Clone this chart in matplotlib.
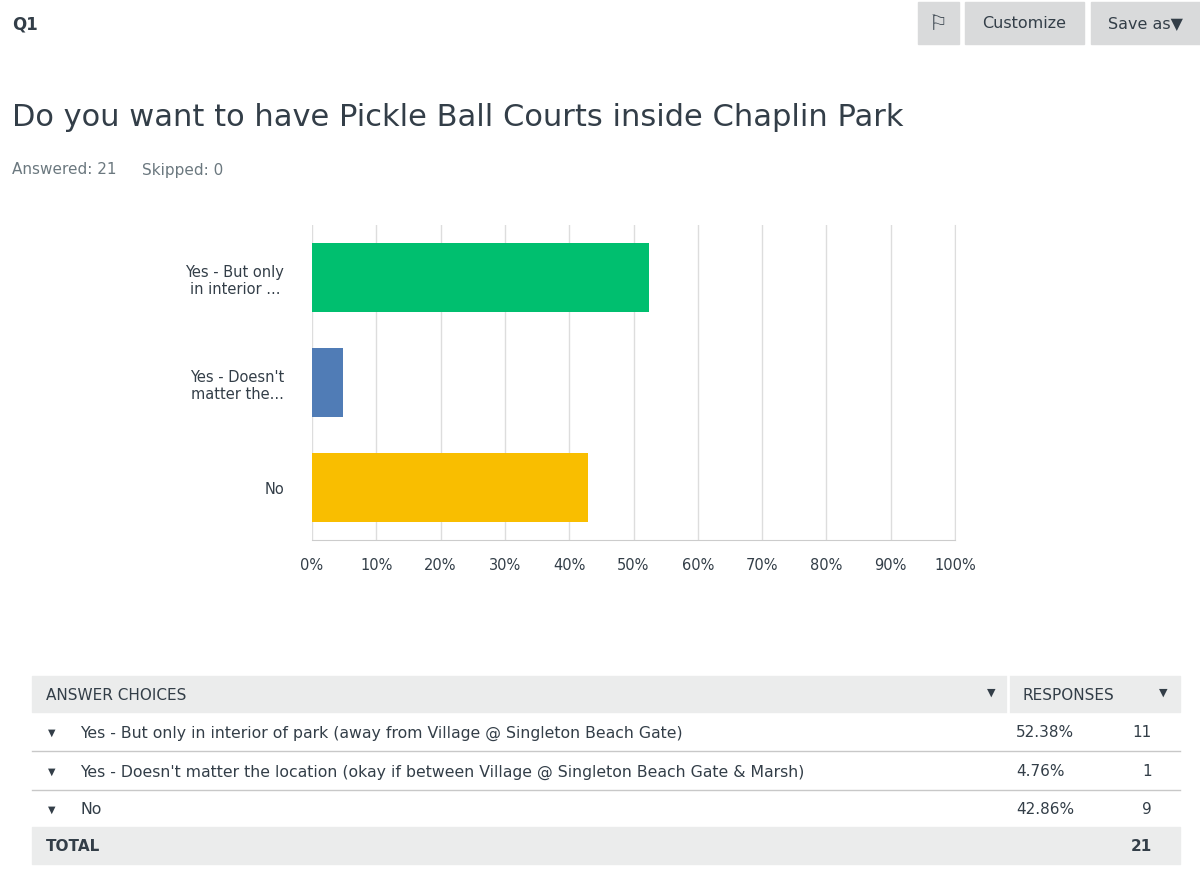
import matplotlib.pyplot as plt
from matplotlib.patches import Rectangle
from matplotlib.ticker import FuncFormatter

W, H = 1200, 878

labels = ["Yes - But only\nin interior ...", "Yes - Doesn't\nmatter the...", "No"]
full_labels = ["Yes - But only in interior of park (away from Village @ Singleton Beach Gate)",
               "Yes - Doesn't matter the location (okay if between Village @ Singleton Beach Gate & Marsh)",
               "No"]
pcts = [52.38, 4.76, 42.86]
counts = [11, 1, 9]
colors = ["#00bf6f", "#507cb6", "#f9be00"]
total = 21


def fx(x):
    return x / W


def fy(y):
    return 1 - y / H


fig = plt.figure(figsize=(12, 8.78), dpi=100)
plt.rcParams['font.family'] = ['DejaVu Sans']

# header
fig.text(fx(12), fy(24), "Q1", fontsize=12, fontweight='bold', va='center', color='#333e48')
for x0, x1, txt in [(918, 959, ""), (965, 1084, "Customize"), (1091, 1200, "Save as\u25bc")]:
    fig.patches.append(Rectangle((fx(x0), fy(45)), fx(x1 - x0), (45 - 3) / H,
                                 transform=fig.transFigure, color='#d9dadb'))
    if txt:
        fig.text(fx((x0 + x1) / 2), fy(24), txt, fontsize=11.5, ha='center', va='center', color='#333e48')
fig.text(fx(938), fy(24), "\u2690", fontsize=15, ha='center', va='center', color='#333e48')

fig.text(fx(12), fy(118), "Do you want to have Pickle Ball Courts inside Chaplin Park",
         fontsize=22, va='center', color='#333e48')
fig.text(fx(12), fy(170), "Answered: 21", fontsize=11, va='center', color='#6b787f')
fig.text(fx(142), fy(170), "Skipped: 0", fontsize=11, va='center', color='#6b787f')

# chart
ax = fig.add_axes([fx(312), fy(541), fx(955 - 312), (541 - 226) / H])
y = list(range(len(labels)))
ax.barh(y, pcts, color=colors, height=0.65)
ax.set_xlim(0, 100)
ax.set_ylim(2.5, -0.5)
ax.set_xticks(range(0, 101, 10))
ax.xaxis.set_major_formatter(FuncFormatter(lambda v, p: f"{v:.0f}%"))
ax.set_yticks(y)
ax.set_yticklabels(labels, ha='right', multialignment='center', fontsize=10.5, color='#333e48')
ax.tick_params(axis='x', labelsize=10.5, colors='#333e48', length=0, pad=12)
ax.tick_params(axis='y', length=0, pad=20)
ax.grid(axis='x', color='#dddddd', linewidth=1)
ax.set_axisbelow(True)
for s in ['top', 'left']:
    ax.spines[s].set_visible(False)
ax.spines['right'].set_color('#dddddd')
ax.spines['bottom'].set_color('#cccccc')

# table
def band(y0, y1, c='#ebecec'):
    fig.patches.append(Rectangle((fx(32), fy(y1)), fx(1180 - 32), (y1 - y0) / H,
                                 transform=fig.transFigure, color=c))


def hline(yy):
    fig.lines.append(plt.Line2D([fx(32), fx(1180)], [fy(yy), fy(yy)], transform=fig.transFigure,
                                color='#c8c8c8', linewidth=1))


band(677, 713)
fig.lines.append(plt.Line2D([fx(1008), fx(1008)], [fy(677), fy(713)], transform=fig.transFigure,
                            color='white', linewidth=2))
fig.text(fx(46), fy(695), "ANSWER CHOICES", fontsize=11, va='center', color='#333e48')
fig.text(fx(991), fy(693), "\u25bc", fontsize=8, ha='center', va='center', color='#333e48')
fig.text(fx(1022), fy(695), "RESPONSES", fontsize=11, va='center', color='#333e48')
fig.text(fx(1163), fy(693), "\u25bc", fontsize=8, ha='center', va='center', color='#333e48')

row_y = [733, 772, 810]
for i, ry in enumerate(row_y):
    fig.text(fx(52), fy(ry), "\u25bc", fontsize=7, ha='center', va='center', color='#333e48')
    fig.text(fx(80), fy(ry), full_labels[i], fontsize=11.3, va='center', color='#333e48')
    fig.text(fx(1016), fy(ry), f"{pcts[i]:.2f}%", fontsize=11, va='center', color='#333e48')
    fig.text(fx(1152), fy(ry), str(counts[i]), fontsize=11, ha='right', va='center', color='#333e48')
hline(752)
hline(791)
band(828, 865)
fig.text(fx(46), fy(847), "TOTAL", fontsize=11, fontweight='bold', va='center', color='#333e48')
fig.text(fx(1152), fy(847), str(total), fontsize=11, fontweight='bold', ha='right', va='center', color='#333e48')

fig.savefig("out.png", dpi=100)
